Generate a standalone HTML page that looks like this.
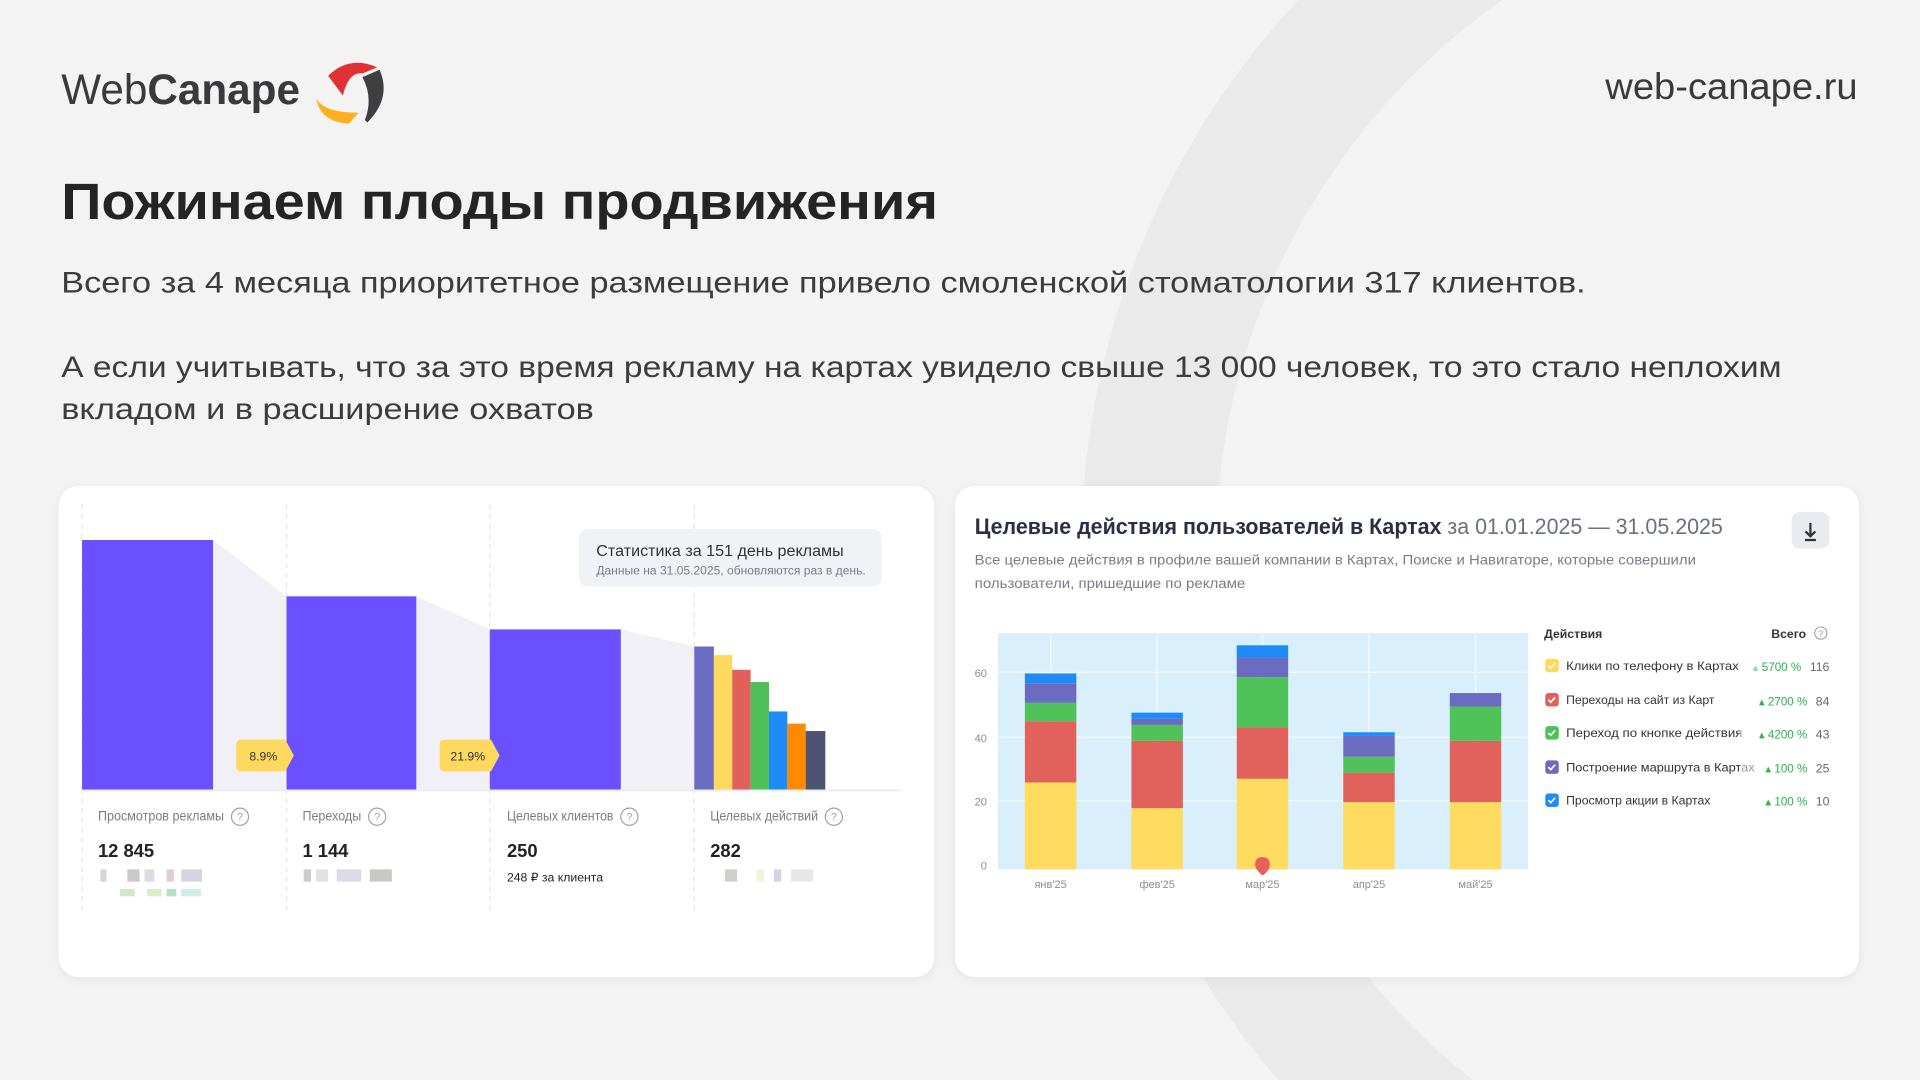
<!DOCTYPE html>
<html><head><meta charset="utf-8"><style>
html,body{margin:0;padding:0;background:#f3f3f3;width:1920px;height:1080px;overflow:hidden;}
svg{display:block}
text{font-family:"Liberation Sans",sans-serif}
</style></head><body>
<svg width="1920" height="1080" viewBox="0 0 1568 882" xmlns="http://www.w3.org/2000/svg">
<rect width="1568" height="882" fill="#f3f3f3"/>
<defs>
<filter id="sh" x="-5%" y="-5%" width="110%" height="115%"><feDropShadow dx="0" dy="2" stdDeviation="4" flood-color="#000" flood-opacity="0.06"/></filter>
</defs>
<circle cx="1543" cy="450" r="605" fill="none" stroke="#eaeaea" stroke-width="110"/>

<text x="50" y="85" font-size="35" fill="#3a3a3c" textLength="195" lengthAdjust="spacingAndGlyphs"><tspan>Web</tspan><tspan font-weight="bold">Canape</tspan></text>
<path d="M268 62 Q285 45 308 55 L296 60 Q285 58 280 78 Z" fill="#e03235"/>
<path d="M296 63 L310 57 Q320 80 300 100 L298 98 Q305 80 296 63 Z" fill="#3f3f42"/>
<path d="M258 80 Q264 92 293 92 L285 101 Q262 100 258 80 Z" fill="#ffb020"/>
<text x="1517" y="81" font-size="30" fill="#3a3a3c" text-anchor="end" textLength="206" lengthAdjust="spacingAndGlyphs">web-canape.ru</text>

<text x="50" y="179" font-size="42" font-weight="bold" fill="#242424" textLength="716" lengthAdjust="spacingAndGlyphs">Пожинаем плоды продвижения</text>
<text x="50" y="239" font-size="24" fill="#3c3c3c" textLength="1245" lengthAdjust="spacingAndGlyphs">Всего за 4 месяца приоритетное размещение привело смоленской стоматологии 317 клиентов.</text>
<text x="50" y="308" font-size="24" fill="#3c3c3c" textLength="1405" lengthAdjust="spacingAndGlyphs">А если учитывать, что за это время рекламу на картах увидело свыше 13 000 человек, то это стало неплохим</text>
<text x="50" y="342" font-size="24" fill="#3c3c3c" textLength="435" lengthAdjust="spacingAndGlyphs">вкладом и в расширение охватов</text>

<rect x="48" y="397" width="715" height="401" rx="16" fill="#fff" filter="url(#sh)"/>
<g stroke="#e4e4e8" stroke-dasharray="4 4" stroke-width="1">
<line x1="67" y1="412" x2="67" y2="745"/><line x1="234" y1="412" x2="234" y2="745"/>
<line x1="400" y1="412" x2="400" y2="745"/><line x1="567" y1="412" x2="567" y2="745"/>
</g>
<polygon points="174,441 234,487 234,645 174,645" fill="#f0f0f6"/>
<polygon points="340,487 400,514 400,645 340,645" fill="#f0f0f6"/>
<polygon points="507,514 567,528 567,645 507,645" fill="#f0f0f6"/>
<rect x="67" y="441" width="107" height="204" fill="#6a50ff"/>
<rect x="234" y="487" width="106" height="158" fill="#6a50ff"/>
<rect x="400" y="514" width="107" height="131" fill="#6a50ff"/>
<rect x="567" y="528" width="16" height="117" fill="#6b6bbf"/>
<rect x="583" y="535" width="15" height="110" fill="#ffd95e"/>
<rect x="598" y="547" width="15" height="98" fill="#e0605a"/>
<rect x="613" y="557" width="15" height="88" fill="#4fbf5a"/>
<rect x="628" y="581" width="15" height="64" fill="#1e8cf5"/>
<rect x="643" y="591" width="15" height="54" fill="#ff8a00"/>
<rect x="658" y="597" width="16" height="48" fill="#4d5472"/>
<line x1="67" y1="645.5" x2="735" y2="645.5" stroke="#ececf0" stroke-width="1.5"/>
<path d="M197 604 H233 L240 617 L233 630 H197 Q193 630 193 626 V608 Q193 604 197 604 Z" fill="#ffd95e"/>
<text x="215" y="621" font-size="10" fill="#333" text-anchor="middle">8.9%</text>
<path d="M363 604 H401 L408 617 L401 630 H363 Q359 630 359 626 V608 Q359 604 363 604 Z" fill="#ffd95e"/>
<text x="382" y="621" font-size="10" fill="#333" text-anchor="middle">21.9%</text>
<rect x="473" y="432" width="247" height="47" rx="7" fill="#f1f2f6"/>
<text x="487" y="454" font-size="13" fill="#333" textLength="202" lengthAdjust="spacingAndGlyphs">Статистика за 151 день рекламы</text>
<text x="487" y="469" font-size="10" fill="#7a7d88" textLength="220" lengthAdjust="spacingAndGlyphs">Данные на 31.05.2025, обновляются раз в день.</text>
<g font-size="11" fill="#7a7d88">
<text x="80" y="670" textLength="103" lengthAdjust="spacingAndGlyphs">Просмотров рекламы</text>
<text x="247" y="670" textLength="48" lengthAdjust="spacingAndGlyphs">Переходы</text>
<text x="414" y="670" textLength="87" lengthAdjust="spacingAndGlyphs">Целевых клиентов</text>
<text x="580" y="670" textLength="88" lengthAdjust="spacingAndGlyphs">Целевых действий</text>
</g>
<g fill="none" stroke="#a0a3ad" stroke-width="1">
<circle cx="196" cy="667" r="7"/><circle cx="308" cy="667" r="7"/><circle cx="514" cy="667" r="7"/><circle cx="681" cy="667" r="7"/>
</g>
<g font-size="9" fill="#a0a3ad" text-anchor="middle"><text x="196" y="670">?</text><text x="308" y="670">?</text><text x="514" y="670">?</text><text x="681" y="670">?</text></g>
<g font-size="15" font-weight="bold" fill="#222">
<text x="80" y="700">12 845</text><text x="247" y="700">1 144</text><text x="414" y="700">250</text><text x="580" y="700">282</text>
</g>
<text x="414" y="720" font-size="10" fill="#222">248 ₽ за клиента</text>
<g opacity="0.35">
<rect x="82" y="710" width="5" height="10" fill="#889"/><rect x="104" y="710" width="10" height="10" fill="#666"/><rect x="118" y="710" width="8" height="10" fill="#99a"/><rect x="136" y="710" width="6" height="10" fill="#a77"/><rect x="148" y="710" width="17" height="10" fill="#88a"/>
<rect x="98" y="726" width="12" height="6" fill="#8b6"/><rect x="120" y="726" width="12" height="6" fill="#9c6"/><rect x="136" y="726" width="8" height="6" fill="#3a5"/><rect x="148" y="726" width="16" height="6" fill="#7cb"/>
<rect x="248" y="710" width="6" height="10" fill="#766"/><rect x="258" y="710" width="10" height="10" fill="#aab"/><rect x="275" y="710" width="20" height="10" fill="#99b"/><rect x="302" y="710" width="18" height="10" fill="#665"/>
<rect x="592" y="710" width="10" height="10" fill="#776"/><rect x="618" y="710" width="6" height="10" fill="#dd9"/><rect x="632" y="710" width="6" height="10" fill="#88a"/><rect x="646" y="710" width="18" height="10" fill="#bbb"/>
</g>

<rect x="780" y="397" width="738" height="401" rx="16" fill="#fff" filter="url(#sh)"/>
<text x="796" y="436" font-size="18" fill="#2b2f45" textLength="611" lengthAdjust="spacingAndGlyphs"><tspan font-weight="bold">Целевые действия пользователей в Картах</tspan><tspan fill="#6b7080"> за 01.01.2025 — 31.05.2025</tspan></text>
<rect x="1463" y="418" width="31" height="30" rx="7" fill="#e9ebf1"/>
<path d="M1478.5 427 V438 M1474.5 434 L1478.5 438 L1482.5 434 M1474 441 H1483" stroke="#333" stroke-width="1.8" fill="none"/>
<text x="796" y="461" font-size="11.5" fill="#7a7d88" textLength="589" lengthAdjust="spacingAndGlyphs">Все целевые действия в профиле вашей компании в Картах, Поиске и Навигаторе, которые совершили</text>
<text x="796" y="480" font-size="11.5" fill="#7a7d88" textLength="221" lengthAdjust="spacingAndGlyphs">пользователи, пришедшие по рекламе</text>

<rect x="815" y="517" width="433" height="193" fill="#d9effb"/>
<g stroke="#fff" stroke-width="1" opacity="0.8">
<line x1="815" y1="549" x2="1248" y2="549"/><line x1="815" y1="602" x2="1248" y2="602"/><line x1="815" y1="654" x2="1248" y2="654"/>
<line x1="858" y1="517" x2="858" y2="710"/><line x1="945" y1="517" x2="945" y2="710"/><line x1="1031" y1="517" x2="1031" y2="710"/><line x1="1118" y1="517" x2="1118" y2="710"/><line x1="1205" y1="517" x2="1205" y2="710"/>
</g>
<g font-size="9" fill="#8a8d98" text-anchor="end">
<text x="806" y="553">60</text><text x="806" y="606">40</text><text x="806" y="658">20</text><text x="806" y="710">0</text>
</g>
<g font-size="9" fill="#8a8d98" text-anchor="middle">
<text x="858" y="725">янв'25</text><text x="945" y="725">фев'25</text><text x="1031" y="725">мар'25</text><text x="1118" y="725">апр'25</text><text x="1205" y="725">май'25</text>
</g>
<g>
<rect x="837" y="639" width="42" height="71" fill="#ffdb5f"/><rect x="837" y="589" width="42" height="50" fill="#e0625a"/><rect x="837" y="574" width="42" height="15" fill="#50c25a"/><rect x="837" y="558" width="42" height="16" fill="#6b6bc2"/><rect x="837" y="550" width="42" height="8" fill="#1e8cf8"/>
<rect x="924" y="660" width="42" height="50" fill="#ffdb5f"/><rect x="924" y="605" width="42" height="55" fill="#e0625a"/><rect x="924" y="592" width="42" height="13" fill="#50c25a"/><rect x="924" y="587" width="42" height="5" fill="#6b6bc2"/><rect x="924" y="582" width="42" height="5" fill="#1e8cf8"/>
<rect x="1010" y="636" width="42" height="74" fill="#ffdb5f"/><rect x="1010" y="594" width="42" height="42" fill="#e0625a"/><rect x="1010" y="553" width="42" height="41" fill="#50c25a"/><rect x="1010" y="537" width="42" height="16" fill="#6b6bc2"/><rect x="1010" y="527" width="42" height="10" fill="#1e8cf8"/>
<rect x="1097" y="655" width="42" height="55" fill="#ffdb5f"/><rect x="1097" y="631" width="42" height="24" fill="#e0625a"/><rect x="1097" y="618" width="42" height="13" fill="#50c25a"/><rect x="1097" y="601" width="42" height="17" fill="#6b6bc2"/><rect x="1097" y="598" width="42" height="3" fill="#1e8cf8"/>
<rect x="1184" y="655" width="42" height="55" fill="#ffdb5f"/><rect x="1184" y="605" width="42" height="50" fill="#e0625a"/><rect x="1184" y="577" width="42" height="28" fill="#50c25a"/><rect x="1184" y="566" width="42" height="11" fill="#6b6bc2"/>
</g>
<path d="M1031 715 Q1025 710 1025 706 Q1025 700 1031 700 Q1037 700 1037 706 Q1037 711 1031 715 Z" fill="#e8605a"/>

<text x="1261" y="521" font-size="10" font-weight="bold" fill="#333">Действия</text>
<text x="1475" y="521" font-size="10" font-weight="bold" fill="#333" text-anchor="end">Всего</text>
<circle cx="1487" cy="517" r="5" fill="none" stroke="#999" stroke-width="0.8"/><text x="1487" y="520" font-size="7" fill="#999" text-anchor="middle">?</text>
<g font-size="10">
<rect x="1262" y="538" width="11" height="11" rx="2.5" fill="#ffd95e"/>
<text x="1279" y="547" fill="#333" textLength="141" lengthAdjust="spacingAndGlyphs">Клики по телефону в Картах</text>
<text x="1471" y="548" fill="#2cb34a" text-anchor="end" font-size="9.5">▴ 5700 %</text><text x="1494" y="548" fill="#666" text-anchor="end">116</text>
<rect x="1262" y="566" width="11" height="11" rx="2.5" fill="#e0605a"/>
<text x="1279" y="575" fill="#333">Переходы на сайт из Карт</text>
<text x="1476" y="576" fill="#2cb34a" text-anchor="end" font-size="9.5">▴ 2700 %</text><text x="1494" y="576" fill="#666" text-anchor="end">84</text>
<rect x="1262" y="593" width="11" height="11" rx="2.5" fill="#4fbf5a"/>
<text x="1279" y="602" fill="#333" textLength="144" lengthAdjust="spacingAndGlyphs">Переход по кнопке действия</text>
<text x="1476" y="603" fill="#2cb34a" text-anchor="end" font-size="9.5">▴ 4200 %</text><text x="1494" y="603" fill="#666" text-anchor="end">43</text>
<rect x="1262" y="621" width="11" height="11" rx="2.5" fill="#6b6bc2"/>
<text x="1279" y="630" fill="#333" textLength="154" lengthAdjust="spacingAndGlyphs">Построение маршрута в Картах</text>
<text x="1476" y="631" fill="#2cb34a" text-anchor="end" font-size="9.5">▴ 100 %</text><text x="1494" y="631" fill="#666" text-anchor="end">25</text>
<rect x="1262" y="648" width="11" height="11" rx="2.5" fill="#1e8cf8"/>
<text x="1279" y="657" fill="#333">Просмотр акции в Картах</text>
<text x="1476" y="658" fill="#2cb34a" text-anchor="end" font-size="9.5">▴ 100 %</text><text x="1494" y="658" fill="#666" text-anchor="end">10</text>
</g>
<rect x="1421" y="535" width="16" height="130" fill="#fff" opacity="0.5"/>
<g stroke="#fff" stroke-width="1.4" fill="none">
<path d="M1264.5 543.5 l2 2 l3.5 -4"/><path d="M1264.5 571.5 l2 2 l3.5 -4"/><path d="M1264.5 598.5 l2 2 l3.5 -4"/><path d="M1264.5 626.5 l2 2 l3.5 -4"/><path d="M1264.5 653.5 l2 2 l3.5 -4"/>
</g>
</svg>
</body></html>
